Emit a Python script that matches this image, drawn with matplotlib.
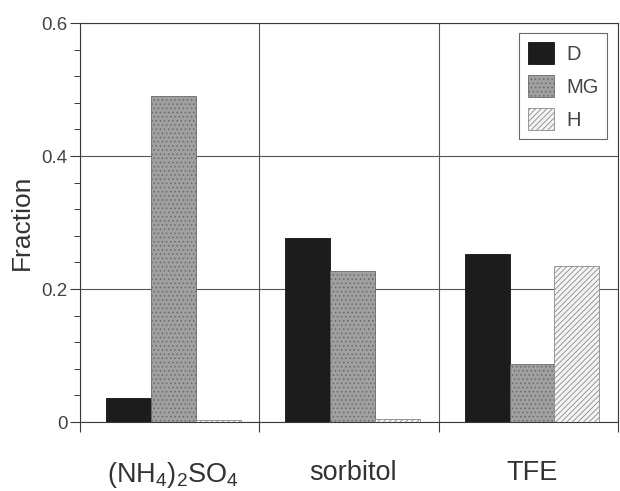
import matplotlib
matplotlib.use("Agg")
import matplotlib.pyplot as plt
import numpy as np

plt.rcParams['font.family'] = ['Liberation Sans', 'DejaVu Sans']
plt.rcParams['mathtext.fontset'] = 'custom'
plt.rcParams['mathtext.rm'] = 'Liberation Sans'
plt.rcParams['hatch.linewidth'] = 0.6

# data
categories = [r'$\mathregular{(NH_4)_2SO_4}$', 'sorbitol', 'TFE']
series = ['D', 'MG', 'H']
frac_D = [0.036, 0.277, 0.253]
frac_MG = [0.490, 0.227, 0.087]
frac_H = [0.003, 0.005, 0.235]

fig = plt.figure(figsize=(6.2, 4.91), dpi=100)
ax = fig.add_axes([0.129, 0.1405, 0.868, 0.8125])

x = np.arange(len(categories))
w = 0.25
off = 0.02  # bars sit a touch right of the group centre
ink = '#3a3a3a'

ax.bar(x - w + off, frac_D, w, color='#1c1c1c', edgecolor='#111111',
       linewidth=0.6, label=series[0], zorder=3)
ax.bar(x + off, frac_MG, w, color='#a0a0a0', edgecolor='#6a6a6a', hatch='....',
       linewidth=0.6, label=series[1], zorder=3)
ax.bar(x + w + off, frac_H, w, color='#f4f4f4', edgecolor='#8a8a8a',
       hatch='//////', linewidth=0.6, label=series[2], zorder=3)

ax.set_xlim(-0.5, 2.5)
ax.set_ylim(0, 0.6)

ax.set_yticks([0, 0.2, 0.4, 0.6])
ax.set_yticklabels(['0', '0.2', '0.4', '0.6'])
ax.set_yticks(np.arange(0, 0.6, 0.04), minor=True)
ax.tick_params(axis='y', which='major', length=7, width=0.8, color=ink,
               labelsize=13.5, labelcolor='#444444', pad=2)
ax.tick_params(axis='y', which='minor', length=4, width=0.7, color=ink)

ax.set_xticks([-0.5, 0.5, 1.5, 2.5])
ax.set_xticklabels([])
ax.set_xticks(x + off, minor=True)
ax.set_xticklabels(categories, minor=True)
ax.tick_params(axis='x', which='major', length=7, width=0.8, color=ink)
ax.tick_params(axis='x', which='minor', length=0, labelsize=19.5,
               labelcolor='#333333', pad=27)

ax.grid(True, which='major', color='#555555', linewidth=0.8, zorder=0)
ax.set_axisbelow(True)
for s in ax.spines.values():
    s.set_color(ink)
    s.set_linewidth(0.8)

ax.set_ylabel('Fraction', fontsize=19, color='#333333', labelpad=5)

leg = ax.legend(loc='upper right', bbox_to_anchor=(0.98, 0.975),
                fontsize=14.5, frameon=True, fancybox=False,
                handlelength=1.3, handleheight=1.3, handletextpad=0.6,
                labelspacing=0.55, borderpad=0.45, borderaxespad=0)
leg.get_frame().set_edgecolor('#444444')
leg.get_frame().set_linewidth(0.8)
for t in leg.get_texts():
    t.set_color('#444444')

fig.savefig('out.png', dpi=100)
